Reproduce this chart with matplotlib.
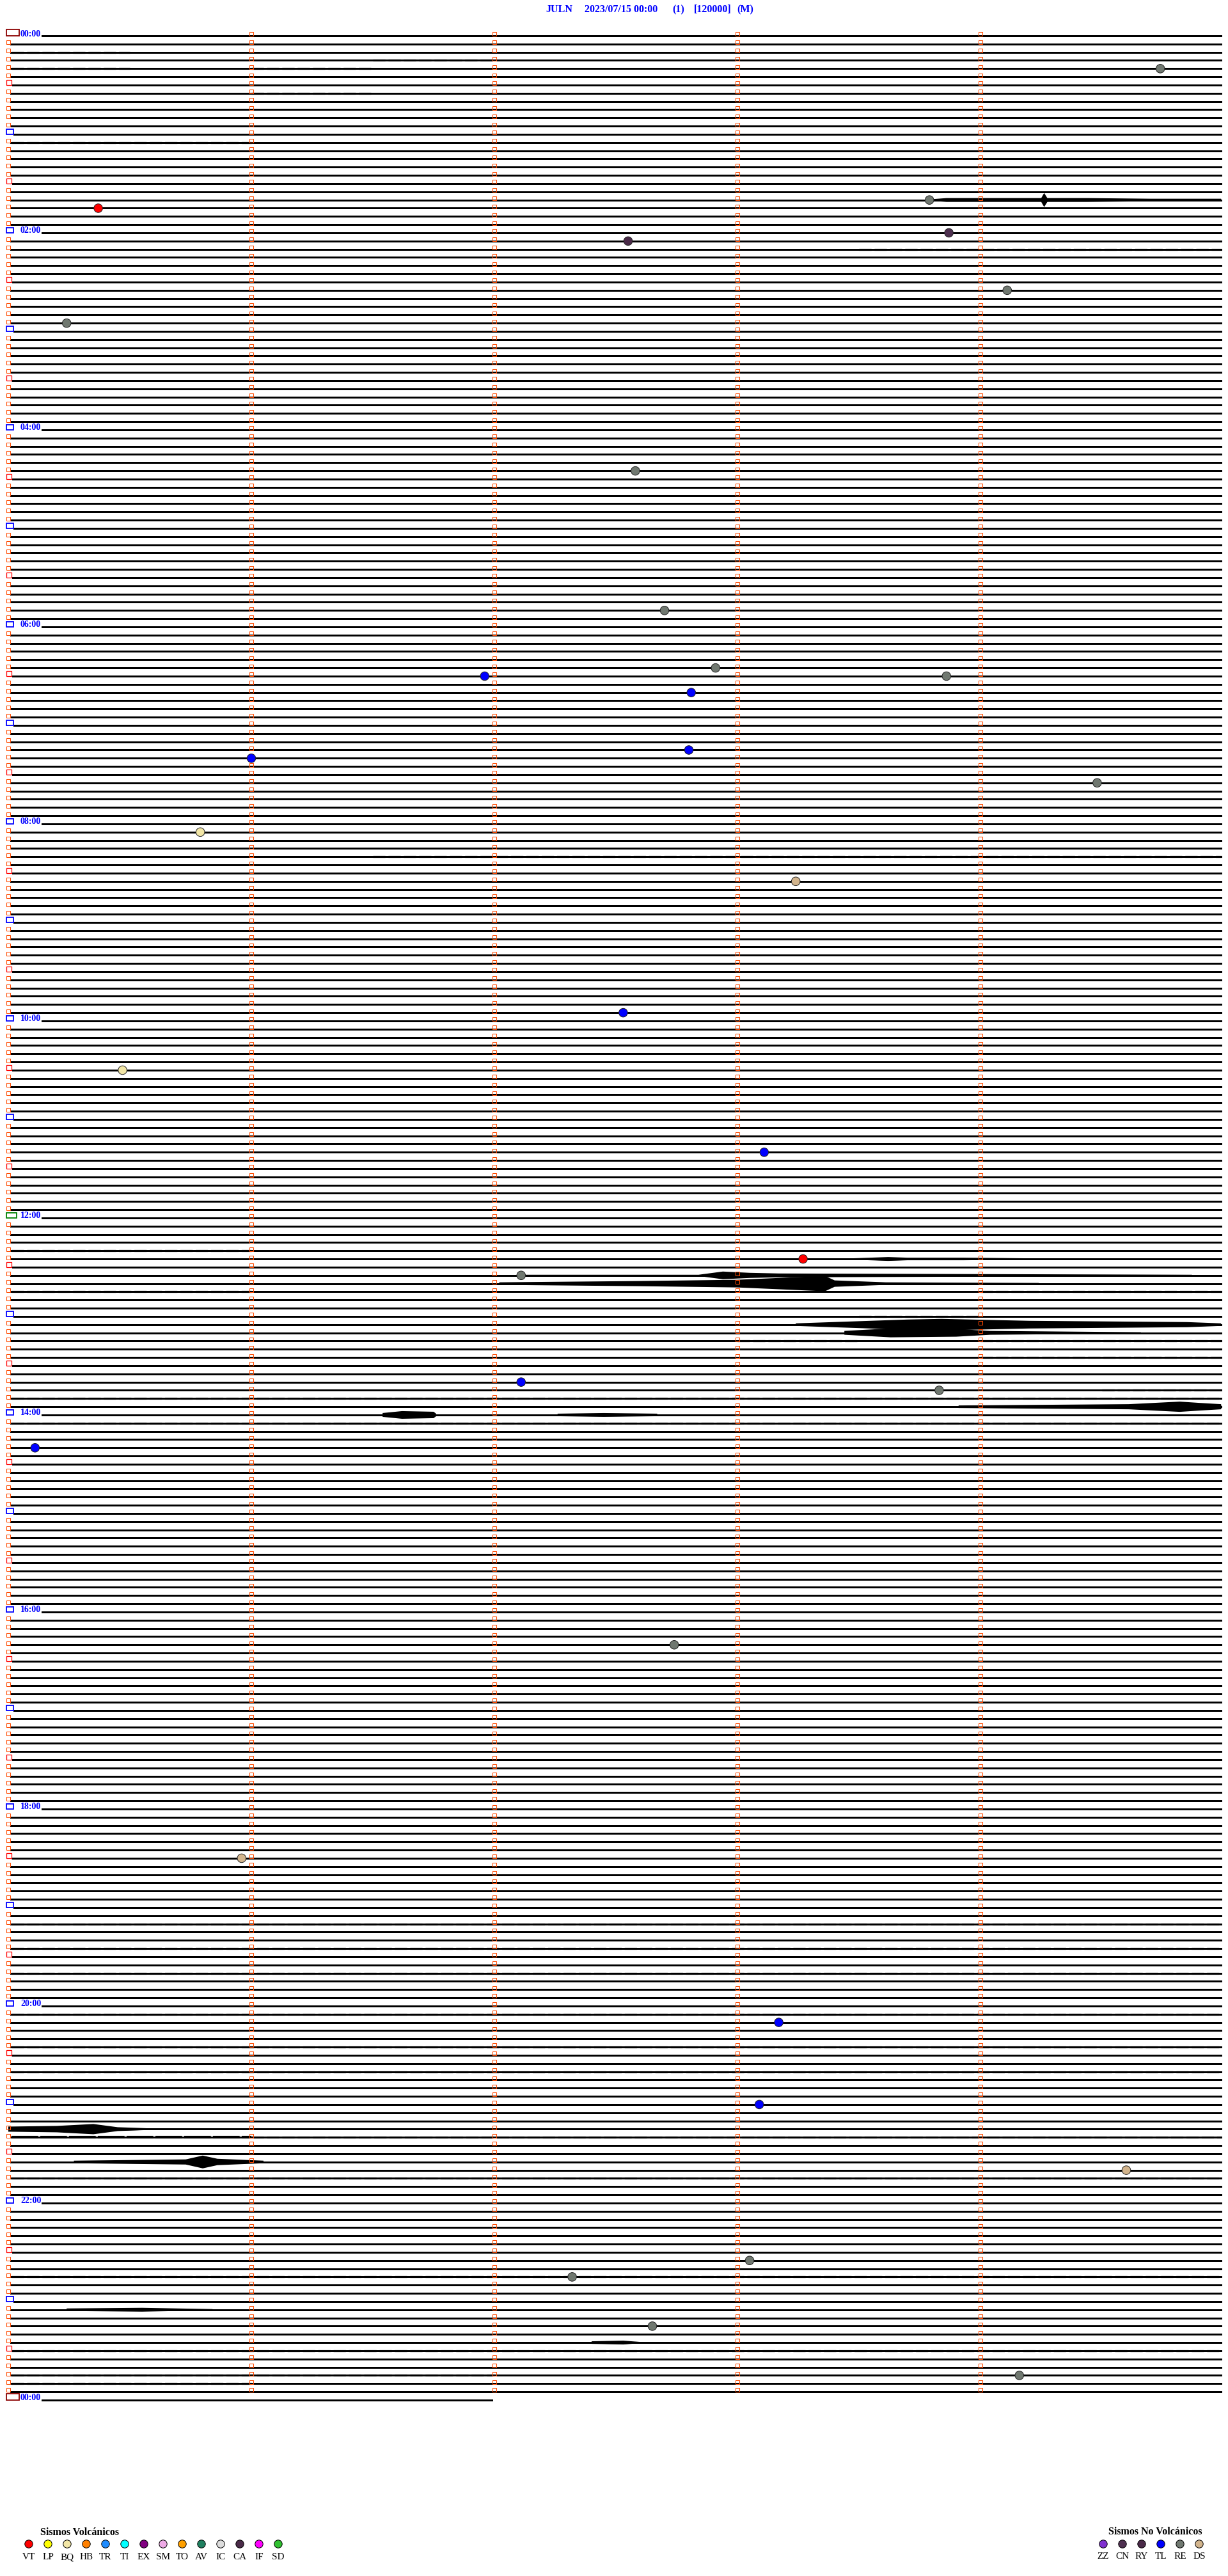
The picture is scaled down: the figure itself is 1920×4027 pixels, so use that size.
import matplotlib
matplotlib.use("Agg")
import matplotlib.pyplot as plt
from matplotlib.patches import Rectangle

# ---------------- data ----------------
TITLE_PARTS = ["JULN", "2023/07/15 00:00", "(1)", "[120000]", "(M)"]
N_LINES = 288          # 5-minute lines over 24 h
HOUR_LABELS = ["%02d:00" % (h % 24) for h in range(0, 25, 2)]

# event circles: line index (5-min rows), minute within row, type
EV_LINE = [4, 21, 20, 25, 24, 31, 35, 53, 70, 78, 77, 78, 80, 88, 87, 91, 97, 103,
           119, 126, 136, 149, 151, 165, 164, 172, 196, 222, 242, 252, 260, 273,
           271, 279, 285]
EV_MIN = [4.74, 0.37, 3.79, 2.55, 3.87, 4.11, 0.24, 2.58, 2.70, 1.96, 2.91, 3.86,
          2.81, 1.00, 2.80, 4.48, 0.79, 3.24, 2.53, 0.47, 3.11, 3.27, 2.11, 3.83,
          2.11, 0.11, 2.74, 0.96, 3.17, 3.09, 4.60, 2.32, 3.05, 2.65, 4.16]
EV_TYPE = ["RE", "VT", "RE", "CA", "CN", "RE", "RE", "RE", "RE", "TL", "RE", "RE",
           "TL", "TL", "TL", "RE", "BQ", "DS", "TL", "BQ", "TL", "VT", "RE", "RE",
           "TL", "TL", "RE", "DS", "TL", "TL", "DS", "RE", "RE", "RE", "RE"]

VOLC_TYPES = ["VT", "LP", "BQ", "HB", "TR", "TI", "EX", "SM", "TO", "AV", "IC", "CA", "IF", "SD"]
VOLC_COLORS = ["#ff0000", "#ffff00", "#f2e6a6", "#ff8000", "#1e8cff", "#00ffff", "#800080",
               "#eeaae6", "#ffa000", "#208060", "#dcdcdc", "#4a2a48", "#ff00ff", "#30c030"]
NOVOLC_TYPES = ["ZZ", "CN", "RY", "TL", "RE", "DS"]
NOVOLC_COLORS = ["#8030d0", "#4e3050", "#4a2a48", "#0000ff", "#707870", "#d2b48c"]

# large signal envelopes: (line, minutes, half-amplitude in px)
WAVE_LINE = [20, 149, 151, 152, 157, 158, 167, 168, 168, 255, 259, 277, 281]
WAVE_MIN = [
    [3.79, 3.86, 4.07, 4.25, 4.262, 4.275, 4.44, 4.70, 4.99],
    [3.47, 3.62, 3.70, 3.93, 4.21],
    [2.13, 2.84, 2.94, 3.05, 3.17, 4.87],
    [2.02, 2.59, 3.00, 3.36, 3.40, 3.61, 4.24],
    [3.24, 3.70, 3.84, 4.20, 4.85, 4.99],
    [3.44, 3.63, 3.90, 4.04, 4.66],
    [3.91, 4.61, 4.82, 4.90, 4.99],
    [1.54, 1.62, 1.75, 1.76],
    [2.26, 2.45, 2.67],
    [0.0, 0.20, 0.35, 0.45, 0.60],
    [0.27, 0.73, 0.80, 0.86, 1.05],
    [0.24, 0.55, 0.84],
    [2.40, 2.53, 2.60],
]
WAVE_AMP = [
    [1, 3, 3, 3, 11, 3, 3, 2, 2],
    [1, 3, 2, 2, 1],
    [1, 1, 6, 4, 3, 1],
    [2, 4, 6, 12, 5, 2, 1],
    [2, 8, 9, 6, 4, 2],
    [3, 7, 6, 3, 1],
    [2, 4, 8, 6, 4],
    [3, 6, 5, 2],
    [2, 3, 2],
    [4, 5, 8, 3, 1],
    [2, 4, 10, 5, 2],
    [2, 3, 1],
    [2, 3, 1],
]

# background noise per line, 10 half-minute cells (0 none, 1 sparse, 2 dense, 3 heavy)
NOISE_ROWS = [
    # 00h
    "0000000000", "0000110000", "2100010000", "0112000001", "2120100011", "0000000111",
    "0000000000", "0020000000", "1000000000", "1100000011", "0000000011", "0001100000",
    # 01h
    "1001100000", "2201100110", "0000001111", "0001100000", "0110011000", "0110001100",
    "0010000000", "0000000000", "0000000000", "0000000111", "0100000111", "1000011010",
    # 02h
    "0000000000", "0001000000", "0011110222", "0011000100", "0000110100", "0000000000",
    "0100110000", "0000000000", "0111110000", "0000100000", "0000000011", "0000000000",
    # 03h
    "0000000000", "0001000000", "0100100000", "0011000000", "0000011000", "0000000000",
    "1100000000", "0000000110", "0100000000", "0000000000", "0001100000", "0000000000",
    # 04h
    "0000000000", "0011000000", "0001000000", "0000000000", "0000000000", "0000000000",
    "0000110000", "0000000000", "0000000000", "0000000000", "0100000000", "0000111000",
    # 05h
    "0000000000", "0000000000", "0000000000", "0000000000", "0110000000", "0000000000",
    "0011000000", "0000000000", "0000000000", "0000000000", "0000000000", "0000000000",
    # 06h
    "0000000000", "0000000000", "0000110000", "0001100000", "0000000000", "0000000000",
    "0000000000", "0000000000", "0000110001", "1100000000", "1000000001", "0000000000",
    # 07h
    "0000000000", "0000111000", "0001110000", "0000100000", "0000000000", "0000100000",
    "0011000000", "0000000000", "0110000000", "0000000000", "0000000000", "0000000000",
    # 08h
    "0000000000", "0000000000", "0000000000", "0000001111", "0002222222", "0000000000",
    "0000000000", "1100000000", "0000000000", "0000000000", "0000000000", "0000000000",
    # 09h
    "0011100000", "0000011100", "0110000000", "0000000110", "0000000000", "0000000000",
    "0011110000", "0000000000", "0001100000", "0000000000", "0000000000", "0000000000",
    # 10h
    "0000000000", "0001100000", "0000000000", "0110000000", "0000000000", "0000000000",
    "0000000000", "0000000000", "0011100000", "0000000000", "0001100000", "0000000000",
    # 11h
    "1111111111", "0000000000", "1111111111", "0000110000", "0011000000", "0000000000",
    "0000000000", "1111111111", "0000000000", "0111111110", "0000011100", "0000000000",
    # 12h
    "0000000000", "0000000000", "1000000000", "1100111111", "2200011111", "0000000000",
    "0000111111", "0000000000", "0000000000", "2200100022", "0000100011", "0000000001",
    # 13h
    "0000001200", "1111111000", "1111111000", "1111112022", "1111000000", "1111111122",
    "0000000000", "0000000000", "0000000000", "1111111112", "2222222222", "1111111000",
    # 14h
    "0000000000", "2222222222", "1111111111", "1111111111", "0000000000", "1111111111",
    "0000000000", "1111111111", "0000000000", "0111111110", "0000000000", "1111111111",
    # 15h
    "0000000000", "0111100000", "0000000000", "1111111111", "0000000000", "0011110000",
    "0000000000", "1111111111", "0000000000", "0000011110", "0000000000", "0000000000",
    # 16h
    "0000000000", "0000000000", "0001110000", "0000000000", "0000000000", "0110000000",
    "0000000000", "0000000000", "0000000000", "0011111000", "0000000000", "1111111111",
    # 17h
    "0000000000", "1111111111", "0000000000", "0000000000", "1111111111", "0000000000",
    "0000011110", "0000000000", "0111000000", "0000000000", "0000000000", "0000111100",
    # 18h
    "0000000000", "0111111000", "0000000000", "1111111111", "0000000000", "0001111111",
    "1111111111", "0000000000", "1111111111", "0000000000", "0111111110", "0000000000",
    # 19h
    "0000000000", "1111111111", "2222222222", "0000000000", "1111111111", "2222222222",
    "1111111111", "0000000000", "2222222222", "1111111111", "0000000000", "1111111111",
    # 20h
    "0000000000", "2222222222", "1111111111", "1111111111", "0000000000", "2222222222",
    "1111111111", "0000000000", "2222222222", "1111111111", "0000000000", "1111111111",
    # 21h
    "0000000000", "1111111111", "0000000000", "0011111111", "3322222222", "0000000000",
    "0000000000", "0001111111", "1000000000", "2222222222", "0000000000", "0000000000",
    # 22h
    "0000000000", "1111111111", "0000000000", "1111111111", "0000000000", "1111110000",
    "0000000000", "1111111111", "0000000000", "2222222222", "1111111111", "0000000000",
    # 23h
    "1111111111", "1000000000", "0000000000", "1111111111", "0000000000", "1111000000",
    "2222222222", "0000000000", "1111111111", "2222111111", "2211111111", "0000000000",
]

# ---------------- layout helpers ----------------
W, H, DPI = 1920, 4027, 100
X0PX, PX_PER_MIN = 13.0, 380.0
Y0PX, PX_PER_LINE = 56.0, 12.833
plt.rcParams["hatch.linewidth"] = 1.3


def dx(px):
    return px / PX_PER_MIN


def dy(px):
    return px / PX_PER_LINE


def to_x(px):
    return (px - X0PX) / PX_PER_MIN


def to_y(px):
    return (px - Y0PX) / PX_PER_LINE


fig = plt.figure(figsize=(W / DPI, H / DPI), dpi=DPI)
ax = fig.add_axes([0, 0, 1, 1])
ax.set_xlim(to_x(0), to_x(W))
ax.set_ylim(to_y(H), to_y(0))
ax.axis("off")

SERIF = ["Liberation Serif", "DejaVu Serif"]
BLUE = "#0000ff"
ORANGE = "#ff4a00"

# ---------------- baselines ----------------
label_lines = list(range(0, N_LINES + 1, 24))
for i in range(N_LINES + 1):
    if i in label_lines:
        x0 = to_x(65)
    elif i % 12 == 0:
        x0 = to_x(21)
    elif i % 12 == 6:
        x0 = to_x(19)
    else:
        x0 = to_x(16)
    x1 = to_x(770) if i == N_LINES else to_x(1910)
    ax.hlines(i, x0, x1, color="black", lw=1.0, antialiased=False, zorder=2)

# ---------------- background noise ----------------
NOISE_STYLE = {1: dict(lw=2.0, dashes=(3.0, 4.0)),
               2: dict(lw=2.3, dashes=(6.0, 1.5)),
               3: dict(lw=3.0, dashes=(10, 0.8))}
CELL = 0.5
for ln, row in enumerate(NOISE_ROWS):
    k = 0
    while k < len(row):
        lev = int(row[k])
        j = k
        while j < len(row) and row[j] == row[k]:
            j += 1
        if lev > 0:
            a = max(k * CELL, to_x(18 if ln % 12 else 66))
            b = min(j * CELL, to_x(1910))
            st = NOISE_STYLE[lev]
            ax.plot([a, b], [ln, ln], color="black", lw=st["lw"], dashes=st["dashes"],
                    solid_capstyle="butt", dash_capstyle="butt", zorder=2)
        k = j

# ---------------- large waveforms ----------------
for ln, mins, amps in zip(WAVE_LINE, WAVE_MIN, WAVE_AMP):
    a = [dy(v) for v in amps]
    ax.fill_between(mins, [ln - 0.6 * v for v in a], [ln + 0.6 * v for v in a],
                    color="black", lw=0, zorder=3)
    ax.fill_between(mins, [ln - v for v in a], [ln + v for v in a],
                    facecolor="none", edgecolor="black", hatch="||||||||||", lw=0, zorder=3)

# ---------------- minute markers ----------------
mk_x, mk_y = [], []
for i in range(N_LINES):
    cols = [1, 2, 3, 4]
    if i % 6 != 0:
        cols = [0] + cols
    for c in cols:
        mk_x.append(c)
        mk_y.append(i - dy(2.6))
ax.plot(mk_x, mk_y, ls="none", marker="s", ms=4.0, mfc="none",
        mec=ORANGE, mew=0.75, zorder=4)

# half-hour / hour / start boxes
for i in range(N_LINES + 1):
    if i in (0, N_LINES):
        col, w, h, lwb = "#8b0000", 20, 10, 1.3
    elif i == 144:
        col, w, h, lwb = "#008000", 16, 8, 1.3
    elif i % 12 == 0:
        col, w, h, lwb = BLUE, 11, 8, 1.3
    elif i % 12 == 6:
        col, w, h, lwb = "#ff0000", 8, 8, 0.9
    else:
        continue
    ax.add_patch(Rectangle((to_x(10), i - dy(h)), dx(w), dy(h), fill=False,
                           ec=col, lw=lwb, zorder=5))

# hour labels
for k, lab in enumerate(HOUR_LABELS):
    ax.text(to_x(32), label_lines[k] + dy(0.5), lab, color=BLUE, fontsize=10,
            fontweight="bold", family=SERIF, ha="left", va="baseline", zorder=6)

# ---------------- event circles ----------------
all_types = VOLC_TYPES + NOVOLC_TYPES
all_colors = VOLC_COLORS + NOVOLC_COLORS
cmap = dict(zip(all_types, all_colors))
ax.scatter(EV_MIN, EV_LINE, s=95, c=[cmap[t] for t in EV_TYPE],
           edgecolors="#202020", linewidths=0.7, zorder=7)

# ---------------- title ----------------
title_x = [853, 914, 1051, 1085, 1152]
for txt, xp in zip(TITLE_PARTS, title_x):
    ax.text(to_x(xp), to_y(19), txt, color=BLUE, fontsize=11.5, fontweight="bold",
            family=SERIF, ha="left", va="baseline")

# ---------------- legends ----------------
ax.text(to_x(63), to_y(3963), "Sismos Volcánicos", fontsize=11.5, fontweight="bold",
        family=SERIF, ha="left", va="baseline", color="black")
vx = [to_x(45 + 30 * k) for k in range(len(VOLC_TYPES))]
ax.scatter(vx, [to_y(3977)] * len(vx), s=80, c=VOLC_COLORS, edgecolors="black",
           linewidths=0.7, zorder=7)
for xx, t in zip(vx, VOLC_TYPES):
    ax.text(xx, to_y(4001), t, fontsize=11, family=SERIF, ha="center",
            va="baseline", color="black")

ax.text(to_x(1733), to_y(3962), "Sismos No Volcánicos", fontsize=11.5, fontweight="bold",
        family=SERIF, ha="left", va="baseline", color="black")
nx = [to_x(1725 + 30 * k) for k in range(len(NOVOLC_TYPES))]
ax.scatter(nx, [to_y(3977)] * len(nx), s=80, c=NOVOLC_COLORS, edgecolors="black",
           linewidths=0.7, zorder=7)
for xx, t in zip(nx, NOVOLC_TYPES):
    ax.text(xx, to_y(4000), t, fontsize=11, family=SERIF, ha="center",
            va="baseline", color="black")

fig.savefig("out.png", dpi=DPI, facecolor="white")
